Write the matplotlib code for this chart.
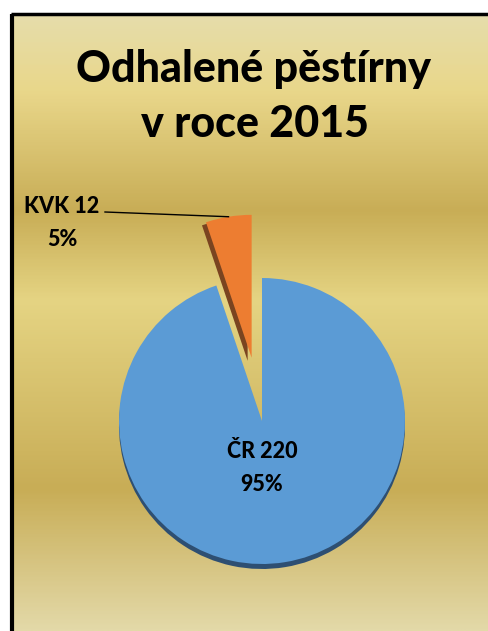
import numpy as np
import matplotlib.pyplot as plt
from matplotlib.colors import LinearSegmentedColormap

# data
names = ["ČR", "KVK"]
counts = [220, 12]
colors = ["#5B9BD5", "#ED7D31"]
shadow_colors = ["#2E4F72", "#7A4420"]
title_lines = ["Odhalené pěstírny", "v roce 2015"]

W, H = 489, 631
plt.rcParams['font.family'] = ['Lato', 'DejaVu Sans']

fig = plt.figure(figsize=(W / 100, H / 100), dpi=100)
ax = fig.add_axes([0, 0, 1, 1])
ax.set_xlim(0, W)
ax.set_ylim(0, H)
ax.set_aspect('equal')
ax.axis('off')

# gold background with horizontal bands (y in pixels from top)
stops_y = [14, 90, 210, 300, 490, 631]
stops_c = ["#E6DDAB", "#E9D78A", "#C8AD56", "#E5D483", "#C8AD56", "#E3D9A8"]
cmap = LinearSegmentedColormap.from_list(
    "gold", list(zip([(s - 14) / (631 - 14) for s in stops_y], stops_c)))
grad = np.linspace(0, 1, 400).reshape(-1, 1)
ax.imshow(grad, cmap=cmap, aspect='auto', extent=(13, W, 0, H - 14),
          origin='upper', zorder=0)

# black frame (left and top)
ax.plot([12, 12], [0, H - 14], color='black', lw=3, zorder=1,
        solid_capstyle='butt')
ax.plot([11, W], [H - 14, H - 14], color='black', lw=2.5, zorder=1,
        solid_capstyle='butt')

cx, cy, r = 262, H - 421, 143
explode = [0, 64]

# shadows for pseudo-3D look: blue drops down, orange edge to the left
sh1, _ = ax.pie(counts, colors=shadow_colors, startangle=90, counterclock=False,
                explode=explode, radius=r, center=(cx, cy - 5), frame=True,
                wedgeprops=dict(linewidth=0, zorder=2))
sh1[1].set_visible(False)
sh2, _ = ax.pie(counts, colors=shadow_colors, startangle=90, counterclock=False,
                explode=explode, radius=r, center=(cx - 4, cy - 3), frame=True,
                wedgeprops=dict(linewidth=0, zorder=2))
sh2[0].set_visible(False)
wedges, _ = ax.pie(counts, colors=colors, startangle=90, counterclock=False,
                   explode=explode, radius=r, center=(cx, cy), frame=True,
                   wedgeprops=dict(linewidth=0, zorder=3))
ax.set_xlim(0, W)
ax.set_ylim(0, H)
ax.axis('off')

total = sum(counts)
pcts = [100 * c / total for c in counts]

# titles
ax.text(254, H - 82, title_lines[0], ha='center', va='baseline',
        fontsize=31, fontweight=900, zorder=5)
ax.text(255, H - 137, title_lines[1], ha='center', va='baseline',
        fontsize=31, fontweight=900, zorder=5)

# ČR label inside
ax.text(262, H - 458, f"{names[0]} {counts[0]}", ha='center', va='baseline',
        fontsize=15.5, fontweight=900, zorder=5)
ax.text(262, H - 491, f"{pcts[0]:.0f}%", ha='center', va='baseline',
        fontsize=15.5, fontweight=900, zorder=5)

# KVK label outside with leader line
ax.text(62, H - 213, f"{names[1]} {counts[1]}", ha='center', va='baseline',
        fontsize=15.5, fontweight=900, zorder=5)
ax.text(62, H - 246, f"{pcts[1]:.0f}%", ha='center', va='baseline',
        fontsize=15.5, fontweight=900, zorder=5)
w = wedges[1]
mid = np.deg2rad((w.theta1 + w.theta2) / 2)
ex = w.center[0] + w.r * np.cos(mid)
ey = w.center[1] + w.r * np.sin(mid)
ax.plot([105, ex], [H - 212, ey], color='black', lw=1, zorder=4)

fig.savefig("out.png", dpi=100)
